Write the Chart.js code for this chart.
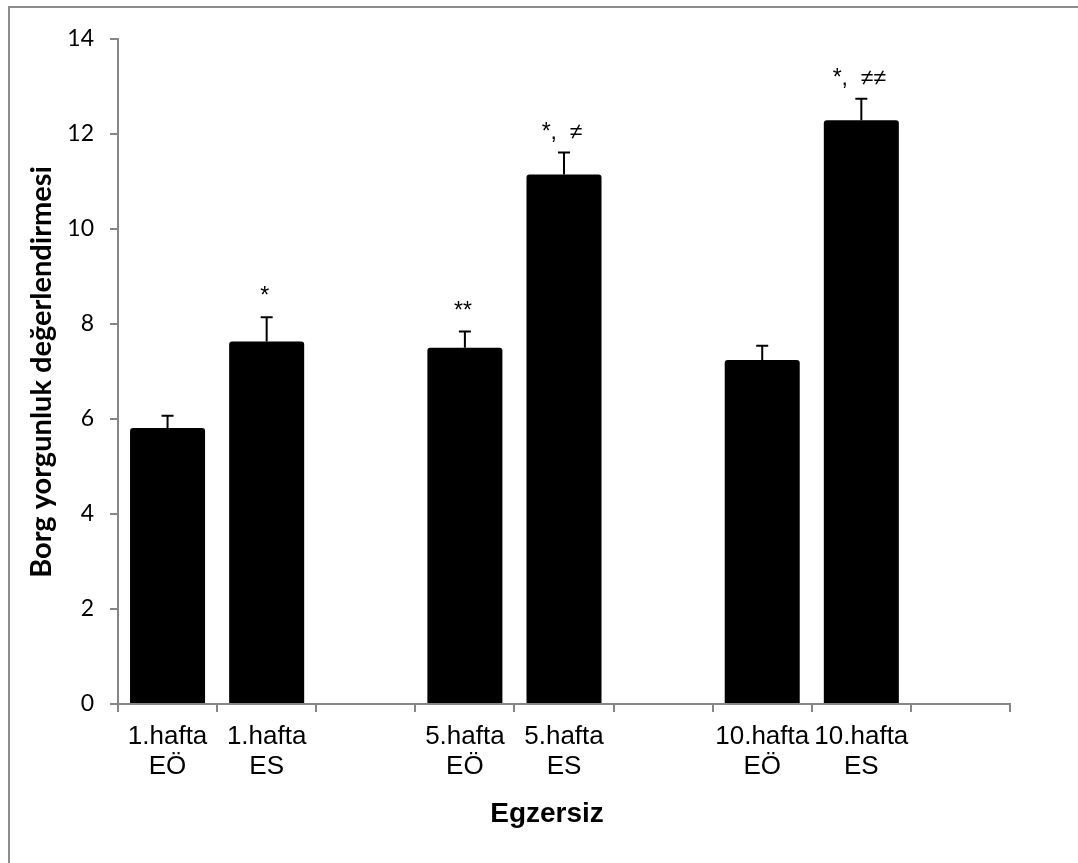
<!DOCTYPE html>
<html>
<head>
<meta charset="utf-8">
<script src="https://cdn.jsdelivr.net/npm/chart.js@4/dist/chart.umd.min.js"></script>
<style>
  html, body { margin: 0; padding: 0; background: #fff; }
  #wrap { position: relative; width: 1078px; height: 863px; overflow: hidden; }
  #frame { position: absolute; left: 8px; top: 6px; width: 1200px; height: 1000px;
           border-left: 2px solid #8c8c8c; border-top: 2px solid #8c8c8c; }
  canvas { position: absolute; left: 0; top: 0; }
</style>
</head>
<body>
<div id="wrap">
  <div id="frame"></div>
  <canvas id="borgChart" width="1078" height="863"></canvas>
</div>
<script>
// categories (empty slots make the gaps between weeks)
const categories = [
    ['1.hafta', 'EÖ'], ['1.hafta', 'ES'], '',
    ['5.hafta', 'EÖ'], ['5.hafta', 'ES'], '',
    ['10.hafta', 'EÖ'], ['10.hafta', 'ES'], ''
];
// mean values and error (SE)
const means = [5.81, 7.63, null, 7.50, 11.15, null, 7.24, 12.29, null];
const errors = [0.26, 0.51, null, 0.34, 0.46, null, 0.30, 0.45, null];
// significance marks above the error bars
const marks = ['', '*', '', '**', '*,  \u2260', '', '', '*,  \u2260\u2260', ''];
const yTicks = [0, 2, 4, 6, 8, 10, 12, 14];

const axisGray = '#868686';

// error bars + significance text
const errorBarPlugin = {
    id: 'errorBars',
    afterDatasetsDraw(chart) {
        const ctx = chart.ctx;
        const meta = chart.getDatasetMeta(0);
        const yScale = chart.scales.y;
        ctx.save();
        meta.data.forEach((bar, i) => {
            if (means[i] == null) return;
            const x = bar.x;
            const yTop = yScale.getPixelForValue(means[i] + errors[i]);
            const yBase = yScale.getPixelForValue(means[i]);
            ctx.strokeStyle = '#000';
            ctx.lineWidth = 2;
            ctx.beginPath();
            ctx.moveTo(x, yBase);
            ctx.lineTo(x, yTop);
            ctx.moveTo(x - 6, yTop);
            ctx.lineTo(x + 6, yTop);
            ctx.stroke();
            if (marks[i]) {
                ctx.fillStyle = '#000';
                ctx.font = '23px "Liberation Sans", Arial, sans-serif';
                ctx.textAlign = 'center';
                ctx.textBaseline = 'alphabetic';
                ctx.fillText(marks[i], x - 2, yTop - 14);
            }
        });
        ctx.restore();
    }
};

// axis titles
const titlePlugin = {
    id: 'axisTitles',
    afterDraw(chart) {
        const ctx = chart.ctx;
        ctx.save();
        ctx.fillStyle = '#000';
        ctx.textAlign = 'center';
        ctx.textBaseline = 'middle';
        ctx.font = 'bold 28px "Liberation Sans", Arial, sans-serif';
        ctx.fillText('Egzersiz', 547, 814);
        ctx.translate(42, 372);
        ctx.rotate(-Math.PI / 2);
        ctx.font = 'bold 29px Lato, "Open Sans", sans-serif';
        ctx.fillText('Borg yorgunluk değerlendirmesi', 0, 0);
        ctx.restore();
    }
};

new Chart(document.getElementById('borgChart'), {
    type: 'bar',
    data: {
        labels: categories,
        datasets: [{
            data: means,
            backgroundColor: '#000',
            borderRadius: 3,
            borderSkipped: 'bottom',
            barPercentage: 0.757,
            categoryPercentage: 1.0
        }]
    },
    options: {
        responsive: false,
        devicePixelRatio: 1,
        animation: false,
        layout: { padding: { top: 39, right: 68, left: 0, bottom: 0 } },
        plugins: {
            legend: { display: false },
            tooltip: { enabled: false }
        },
        scales: {
            x: {
                grid: {
                    offset: true,
                    drawOnChartArea: false,
                    drawTicks: true,
                    tickLength: 8,
                    color: axisGray,
                    lineWidth: 2
                },
                border: { color: axisGray, width: 2 },
                ticks: {
                    color: '#000',
                    maxRotation: 0,
                    autoSkip: false,
                    padding: 10,
                    font: { family: '"Liberation Sans", Arial, sans-serif', size: 26, lineHeight: 1.15 }
                },
                afterFit(scale) { scale.height = 159; }
            },
            y: {
                min: 0,
                max: 14,
                afterBuildTicks(scale) { scale.ticks = yTicks.map(v => ({ value: v })); },
                grid: {
                    drawOnChartArea: false,
                    drawTicks: true,
                    tickLength: 8,
                    color: axisGray,
                    lineWidth: 2
                },
                border: { color: axisGray, width: 2 },
                ticks: {
                    color: '#000',
                    padding: 16,
                    font: { family: 'Lato, "Open Sans", sans-serif', size: 23 }
                },
                afterFit(scale) { scale.width = 118; }
            }
        }
    },
    plugins: [errorBarPlugin, titlePlugin]
});
</script>
</body>
</html>
